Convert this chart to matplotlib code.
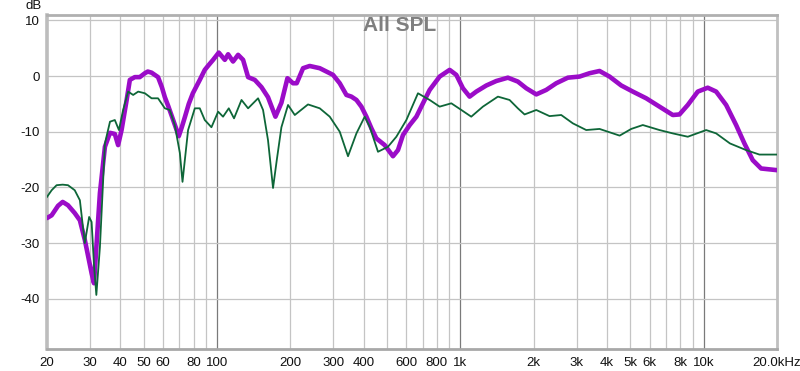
import matplotlib
matplotlib.use("Agg")
import matplotlib.pyplot as plt

plt.rcParams['font.family'] = ['Liberation Sans', 'DejaVu Sans']

# ---- data (frequency in Hz, level in dB) ----
purple_freq = [20, 20.9, 22.2, 23.2, 24.4, 26.0, 27.3, 28.6, 30.5, 31.2, 33.0, 34.6, 36.3, 38.0,
               39.2, 40.5, 42.5, 43.8, 45.9, 48.1, 50.5, 51.9, 53.8, 57.2, 59.3, 61.0, 63.0,
               66.0, 69.6, 71.6, 73.7, 76.5, 79.5, 84.9, 89.0, 92.5, 96.3, 101.6, 107.6, 111,
               116.3, 122, 127.9, 134.1, 142.9, 152.2, 161.9, 173.7, 183.8, 194.6, 205.2, 212.4,
               225.6, 240.2, 264.2, 299.6, 319.2, 340, 356.4, 373.8, 391.8, 410.8, 430.8, 451.4,
               488.4, 528.2, 553.8, 580.6, 618.8, 659.2, 701.6, 747.4, 821.6, 903, 962, 1024,
               1091, 1162, 1278, 1404, 1567, 1722, 1865, 2050, 2252, 2476, 2764, 3088, 3393,
               3730, 4100, 4580, 5112, 5800, 6578, 7460, 7946, 8598, 9450, 10386, 11246, 12360,
               13584, 14692, 15894, 17208, 20000]
purple_db = [-25.5, -25.0, -23.3, -22.6, -23.2, -24.6, -25.9, -29.4, -35.4, -37.2, -21.0, -12.7,
             -10.2, -10.4, -12.4, -9.7, -4.3, -0.7, -0.2, -0.2, 0.5, 0.8, 0.6, -0.2, -2.0, -3.8,
             -5.4, -7.9, -10.8, -9.2, -7.4, -5.0, -3.1, -0.7, 1.1, 2.0, 2.9, 4.2, 2.9, 3.9, 2.6,
             3.8, 2.9, -0.2, -0.7, -2.0, -3.8, -7.3, -4.8, -0.4, -1.3, -1.3, 1.4, 1.8, 1.4, 0.2,
             -1.3, -3.4, -3.7, -4.3, -5.5, -7.3, -9.4, -11.2, -12.4, -14.4, -13.3, -10.6, -8.8,
             -7.3, -4.9, -2.5, -0.1, 1.1, 0.2, -2.2, -3.7, -2.8, -1.7, -0.9, -0.3, -1.0, -2.2,
             -3.3, -2.5, -1.3, -0.3, -0.1, 0.5, 0.9, -0.1, -1.7, -2.8, -4.0, -5.5, -7.0, -6.9,
             -5.2, -2.8, -2.1, -2.8, -5.2, -8.8, -12.1, -15.1, -16.6, -16.9]

green_freq = [20, 20.9, 21.9, 23.2, 24.4, 26.0, 27.3, 28.6, 29.8, 30.5, 31.2, 31.9, 33.0, 34.6,
              36.3, 38.0, 39.5, 41.1, 43.1, 45.2, 47.4, 50.5, 53.8, 57.2, 61.0, 63.9, 67.0,
              70.3, 72.1, 73.7, 76.0, 81.0, 84.9, 89.0, 94.8, 101, 105.8, 111.7, 117.4, 126,
              134.1, 147.4, 154.5, 161.9, 169.8, 175.9, 183.8, 195.7, 208.6, 236.4, 264.2,
              290.4, 319.2, 345.2, 373.8, 404.2, 423.8, 458.4, 503.8, 545.4, 599.6, 669.2,
              747.4, 821.6, 917.6, 1009, 1108, 1237, 1426, 1592, 1722, 1835, 2050, 2324, 2596,
              2898, 3289, 3730, 4512, 5034, 5618, 6578, 7460, 8598, 10228, 11246, 12812, 14934,
              16934, 20000]
green_db = [-21.7, -20.5, -19.6, -19.5, -19.6, -20.5, -22.3, -30.0, -25.3, -26.2, -33.9, -39.3,
            -30.7, -12.1, -8.2, -7.9, -9.7, -6.1, -2.8, -3.4, -2.8, -3.1, -4.0, -4.0, -5.8,
            -6.1, -8.8, -13.8, -19.0, -15.1, -9.7, -5.8, -5.8, -7.9, -9.2, -6.4, -7.3, -5.8,
            -7.6, -4.3, -5.8, -4.0, -6.1, -11.5, -20.1, -15.1, -9.2, -5.2, -7.0, -5.1, -5.8,
            -7.3, -10.0, -14.4, -10.3, -7.3, -9.1, -13.6, -12.7, -10.9, -7.9, -3.1, -4.3,
            -5.5, -4.9, -6.1, -7.3, -5.5, -3.7, -4.3, -5.8, -6.9, -6.1, -7.2, -7.0, -8.5,
            -9.7, -9.5, -10.7, -9.5, -8.8, -9.7, -10.3, -10.9, -9.7, -10.3, -12.1, -13.3,
            -14.1, -14.1]

xtick_vals = [20, 30, 40, 50, 60, 80, 100, 200, 300, 400, 600, 800, 1000, 2000, 3000, 4000,
              5000, 6000, 8000, 10000, 20000]
xtick_labels = ['20', '30', '40', '50', '60', '80', '100', '200', '300', '400', '600', '800',
                '1k', '2k', '3k', '4k', '5k', '6k', '8k', '10k', '20.0kHz']
ytick_vals = [10, 0, -10, -20, -30, -40]
grid_freqs = [30, 40, 50, 60, 70, 80, 90, 200, 300, 400, 500, 600, 700, 800, 900,
              2000, 3000, 4000, 5000, 6000, 7000, 8000, 9000]
major_freqs = [100, 1000, 10000]

W, H = 800, 371
fig = plt.figure(figsize=(W / 100, H / 100), dpi=100)
ax = fig.add_axes([47 / W, 1 - 349 / H, 730 / W, 334 / H])
ax.set_xscale('log')
ax.set_xlim(20, 20000)
ax.set_ylim(-49.0, 10.95)

for f in grid_freqs:
    ax.axvline(f, color='#c4c4c4', lw=0.9, zorder=1)
for f in major_freqs:
    ax.axvline(f, color='#7a7a7a', lw=0.9, zorder=1)
for v in ytick_vals:
    ax.axhline(v, color='#c4c4c4', lw=0.9, zorder=1)

ax.plot(purple_freq, purple_db, color='#9B0CC8', lw=3.3, solid_capstyle='round',
        solid_joinstyle='round', zorder=3)
ax.plot(green_freq, green_db, color='#0E6638', lw=1.3, solid_joinstyle='round', zorder=4)

ax.set_xticks(xtick_vals)
ax.set_xticklabels(xtick_labels)
ax.minorticks_off()
ax.set_yticks(ytick_vals)
ax.set_yticklabels([str(v) for v in ytick_vals])
ax.tick_params(axis='both', length=0, labelsize=9.5, colors='#111111')
ax.tick_params(axis='x', pad=6)
ax.tick_params(axis='y', pad=5)

ax.spines['left'].set_color('#bdbdbd')
ax.spines['left'].set_linewidth(2.6)
ax.spines['bottom'].set_color('#a8a8a8')
ax.spines['bottom'].set_linewidth(2.0)
ax.spines['top'].set_color('#b0b0b0')
ax.spines['top'].set_linewidth(2.0)
ax.spines['right'].set_color('#c0c0c0')
ax.spines['right'].set_linewidth(2.0)

fig.text(400 / W, 1 - 25.5 / H, 'All SPL', ha='center', va='center', fontsize=15,
         fontweight='bold', color='#7f7f7f')
fig.text(34 / W, 1 - 6 / H, 'dB', ha='center', va='center', fontsize=9.5, color='#111111')

fig.savefig('out.png', dpi=100, facecolor='white')
